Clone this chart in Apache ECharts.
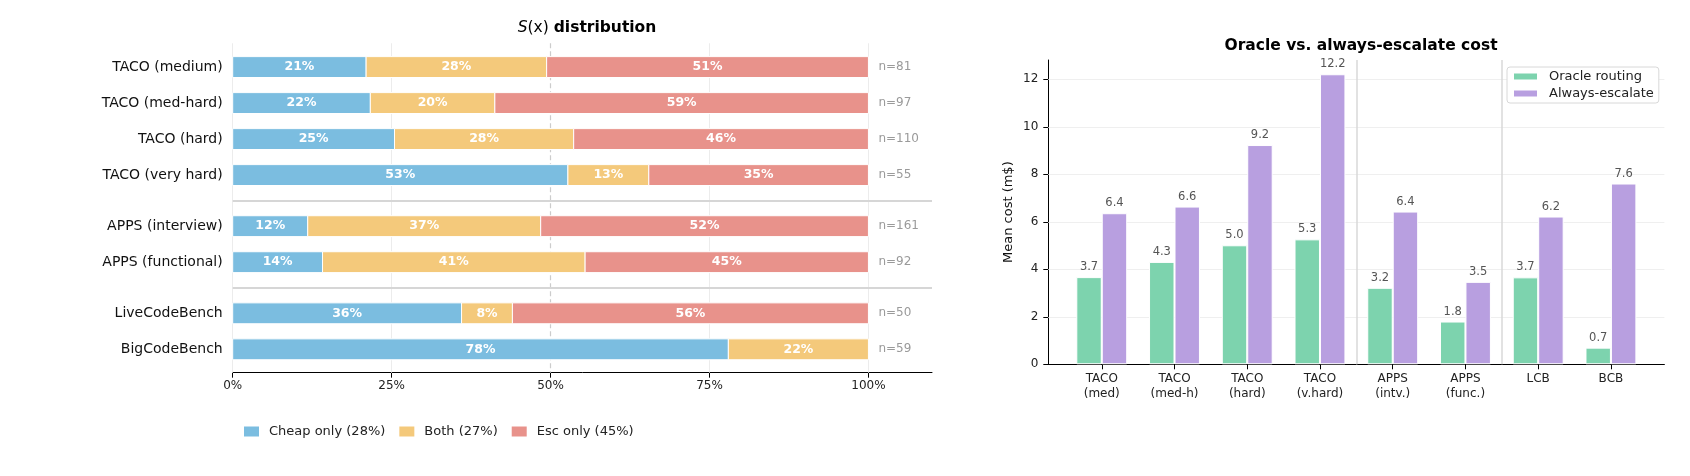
<!DOCTYPE html>
<html>
<head>
<meta charset="UTF-8">
<title>S(x) distribution / oracle cost</title>
<script src="https://cdn.jsdelivr.net/npm/echarts@6/dist/echarts.min.js"></script>
<style>
	html, body { margin: 0; padding: 0; background: #fff; }
	#chart { width: 1690px; height: 476px; }
</style>
</head>
<body>
<div id="chart"></div>
<script>
	// ---- left panel: S(x) distribution ----
	var rowNames = ['TACO (medium)', 'TACO (med-hard)', 'TACO (hard)', 'TACO (very hard)',
		'APPS (interview)', 'APPS (functional)', 'LiveCodeBench', 'BigCodeBench'];
	var rowGroup = [0, 0, 0, 0, 1, 1, 2, 2];          // benchmark family
	var cheapOnly = [17, 21, 28, 29, 19, 13, 18, 46];  // counts per row
	var bothOk    = [23, 19, 31, 7, 59, 38, 4, 13];
	var escOnly   = [41, 57, 51, 19, 83, 41, 28, 0];
	var segNames = ['Cheap only (28%)', 'Both (27%)', 'Esc only (45%)'];
	var pctTicks = [0, 25, 50, 75, 100];

	// ---- right panel: oracle vs always-escalate ----
	var costCats = ['TACO\n(med)', 'TACO\n(med-h)', 'TACO\n(hard)', 'TACO\n(v.hard)',
		'APPS\n(intv.)', 'APPS\n(func.)', 'LCB', 'BCB'];
	var oracleCost = [3.67, 4.31, 5.01, 5.26, 3.22, 1.80, 3.66, 0.70];
	var escalateCost = [6.36, 6.64, 9.23, 12.21, 6.43, 3.47, 6.22, 7.61];
	var costTicks = [0, 2, 4, 6, 8, 10, 12];
	var costGroup = [0, 0, 0, 0, 1, 1, 2, 2];

	var segColors = ['#7bbde0', '#f4c97b', '#e8928b'];
	var FONT = 'DejaVu Sans';

	// row positions: one unit per row, extra gap between families
	var rowPos = rowNames.map(function (n, i) { return +(i + rowGroup[i] * 0.42).toFixed(2); });
	var sepPos = [];
	for (var i = 1; i < rowPos.length; i++) {
		if (rowGroup[i] !== rowGroup[i - 1]) sepPos.push((rowPos[i] + rowPos[i - 1]) / 2);
	}
	var totals = rowNames.map(function (n, i) { return cheapOnly[i] + bothOk[i] + escOnly[i]; });

	var groupSeps = [];
	for (var i = 1; i < costGroup.length; i++) {
		if (costGroup[i] !== costGroup[i - 1]) groupSeps.push(i - 0.5);
	}

	function segData(k) {
		var parts = [cheapOnly, bothOk, escOnly];
		return rowNames.map(function (n, i) {
			var start = 0;
			for (var j = 0; j < k; j++) start += parts[j][i] / totals[i] * 100;
			return [rowPos[i], start, parts[k][i] / totals[i] * 100];
		});
	}

	function segRender(color) {
		return function (params, api) {
			var y = api.value(0), x0 = api.value(1), w = api.value(2);
			if (w <= 0) return null;
			var a = api.coord([x0, y]), b = api.coord([x0 + w, y]);
			var h = api.size([0, 0.58])[1];
			return {
				type: 'group',
				children: [{
					type: 'rect',
					shape: { x: a[0], y: a[1] - h / 2, width: b[0] - a[0], height: h },
					style: { fill: color, stroke: '#fff', lineWidth: 1 }
				}, {
					type: 'text',
					x: (a[0] + b[0]) / 2, y: a[1],
					style: {
						text: Math.round(w) + '%', fill: '#fff',
						font: 'bold 12.5px "' + FONT + '"', align: 'center', verticalAlign: 'middle'
					}
				}]
			};
		};
	}

	// helper series that only carries reference lines
	function guideSeries(axisIdx, lines) {
		return {
			type: 'line', xAxisIndex: axisIdx, yAxisIndex: axisIdx, data: [], silent: true, z: 1,
			markLine: { silent: true, symbol: 'none', z: 1, label: { show: false }, data: lines }
		};
	}

	var series = [];
	segNames.forEach(function (name, k) {
		series.push({
			name: name, type: 'custom', xAxisIndex: 0, yAxisIndex: 0, z: 3,
			itemStyle: { color: segColors[k] },
			encode: { x: 1, y: 0 },
			renderItem: segRender(segColors[k]),
			data: segData(k)
		});
	});
	// n= annotations
	series.push({
		name: 'n', type: 'custom', xAxisIndex: 0, yAxisIndex: 0, z: 3,
		encode: { y: 0 },
		renderItem: function (params, api) {
			var p = api.coord([100, api.value(0)]);
			return {
				type: 'text', x: p[0] + 10, y: p[1],
				style: { text: 'n=' + api.value(1), fill: '#9a9a9a', font: '12px "' + FONT + '"', verticalAlign: 'middle' }
			};
		},
		data: rowPos.map(function (p, i) { return [p, totals[i]]; })
	});
	series.push(guideSeries(0,
		[0, 25, 75, 100].map(function (v) {
			return { xAxis: v, lineStyle: { color: '#ececec', width: 1, type: 'solid' } };
		}).concat([{ xAxis: 50, lineStyle: { color: '#cccccc', width: 1.2, type: [5, 3] } }])
		  .concat(sepPos.map(function (v) {
			return { yAxis: v, lineStyle: { color: '#d6d6d6', width: 2, type: 'solid' } };
		}))
	));

	// right panel bars
	var costLabel = {
		show: true, position: 'top', distance: 4, color: '#555', fontSize: 11.5, fontFamily: FONT,
		formatter: function (p) { return p.value[1].toFixed(1); }
	};
	series.push({
		name: 'Oracle routing', type: 'bar', xAxisIndex: 1, yAxisIndex: 1, z: 3,
		barWidth: '35%', barGap: '0%',
		itemStyle: { color: '#7dd3ae', borderColor: '#fff', borderWidth: 1 },
		label: costLabel,
		data: oracleCost.map(function (v, i) { return [i, v]; })
	});
	series.push({
		name: 'Always-escalate', type: 'bar', xAxisIndex: 1, yAxisIndex: 1, z: 3,
		barWidth: '35%', barGap: '0%',
		itemStyle: { color: '#b89fe0', borderColor: '#fff', borderWidth: 1 },
		label: costLabel,
		data: escalateCost.map(function (v, i) { return [i, v]; })
	});
	series.push(guideSeries(1,
		costTicks.slice(1).map(function (v) {
			return { yAxis: v, lineStyle: { color: '#efefef', width: 1, type: 'solid' } };
		}).concat(groupSeps.map(function (v) {
			return { xAxis: v, lineStyle: { color: '#d9d9d9', width: 1.5, type: 'solid' } };
		}))
	));

	var option = {
		animation: false,
		textStyle: { fontFamily: FONT },
		title: [{
			text: '{i|S}(x) {b|distribution}',
			left: 582, top: 15, textAlign: 'center',
			textStyle: {
				fontSize: 15.5, fontWeight: 'normal', color: '#000',
				rich: {
					i: { fontSize: 15.5, fontStyle: 'italic', fontFamily: FONT, color: '#000' },
					b: { fontSize: 15.5, fontWeight: 'bold', fontFamily: FONT, color: '#000' }
				}
			}
		}, {
			text: 'Oracle vs. always-escalate cost',
			left: 1356, top: 33, textAlign: 'center',
			textStyle: { fontSize: 15.5, fontWeight: 'bold', color: '#000' }
		}],
		legend: [{
			data: segNames,
			left: 239, top: 420, orient: 'horizontal',
			icon: 'rect', itemWidth: 15, itemHeight: 10, itemGap: 14,
			textStyle: { fontSize: 13, color: '#222', padding: [0, 0, 0, 5] }
		}, {
			data: ['Oracle routing', 'Always-escalate'],
			left: 1507, top: 67, orient: 'vertical',
			icon: 'rect', itemWidth: 25, itemHeight: 8, itemGap: 4,
			padding: [3, 5, 3, 5],
			borderColor: '#d8d8d8', borderWidth: 1, borderRadius: 3, backgroundColor: '#fff',
			textStyle: { fontSize: 13, color: '#222', padding: [0, 0, 0, 6] }
		}],
		grid: [
			{ left: 232.7, right: 758, top: 43.3, bottom: 103.3 },
			{ left: 1048.3, right: 25.6, top: 60, bottom: 111.7 }
		],
		xAxis: [{
			type: 'value', gridIndex: 0, min: 0, max: 110,
			axisLine: { show: true, onZero: false, lineStyle: { color: '#000', width: 1 } },
			axisTick: { show: true, length: 5, lineStyle: { color: '#000' }, customValues: pctTicks },
			axisLabel: { customValues: pctTicks, margin: 7, fontSize: 12, color: '#222', formatter: function (v) { return v + '%'; } },
			splitLine: { show: false }
		}, {
			type: 'value', gridIndex: 1, min: -0.735, max: 7.735,
			axisLine: { show: true, onZero: false, lineStyle: { color: '#000', width: 1 } },
			axisTick: { show: true, length: 5, lineStyle: { color: '#000' }, customValues: costCats.map(function (c, i) { return i; }) },
			axisLabel: {
				customValues: costCats.map(function (c, i) { return i; }),
				margin: 7, fontSize: 12, lineHeight: 15, color: '#222',
				formatter: function (v) { return costCats[Math.round(v)]; }
			},
			splitLine: { show: false }
		}],
		yAxis: [{
			type: 'value', gridIndex: 0, inverse: true, min: -0.66, max: 8.49,
			axisLine: { show: false, onZero: false }, axisTick: { show: false }, splitLine: { show: false },
			axisLabel: {
				customValues: rowPos, margin: 10, fontSize: 14, color: '#111',
				formatter: function (v) { return rowNames[rowPos.indexOf(v)]; }
			}
		}, {
			type: 'value', gridIndex: 1, min: 0, max: 12.81,
			name: 'Mean cost (m$)', nameLocation: 'middle', nameGap: 33,
			nameTextStyle: { fontSize: 13, color: '#111' },
			axisLine: { show: true, onZero: false, lineStyle: { color: '#000', width: 1 } },
			axisTick: { show: true, length: 5, lineStyle: { color: '#000' }, customValues: costTicks },
			axisLabel: { customValues: costTicks, margin: 10, fontSize: 12, color: '#222' },
			splitLine: { show: false }
		}],
		series: series
	};

	var chart = echarts.init(document.getElementById('chart'));
	chart.setOption(option);
</script>
</body>
</html>
